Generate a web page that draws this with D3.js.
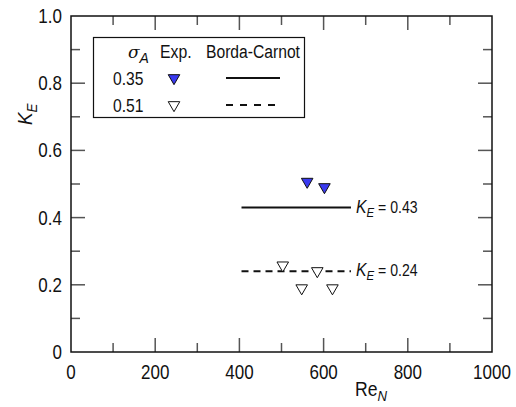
<!DOCTYPE html>
<html>
<head>
<meta charset="utf-8">
<script src="https://cdn.jsdelivr.net/npm/d3@7"></script>
<style>
  body { margin: 0; background: #fff; }
  svg text { font-family: "Liberation Sans Narrow", "Liberation Sans", Arial, sans-serif; fill: #111; }
</style>
</head>
<body>
<svg id="chart" width="516" height="407"></svg>
<script>
// データ
const xTicks = [0, 200, 400, 600, 800, 1000];
const yTicks = [0, 0.2, 0.4, 0.6, 0.8, 1.0];
const yTickLabels = ["0", "0.2", "0.4", "0.6", "0.8", "1.0"];

// Exp. σA = 0.35 (塗りつぶし)
const re035 = [561, 602];
const ke035 = [0.507, 0.491];
// Exp. σA = 0.51 (白抜き)
const re051 = [503, 585, 548, 621];
const ke051 = [0.258, 0.241, 0.19, 0.19];

// Borda-Carnot
const bcRange = [405, 665];
const bcValues = [0.43, 0.24];
const bcLabels = ["0.43", "0.24"];

const margin = {top: 16, right: 24, bottom: 55, left: 71};
const svg = d3.select("#chart");
const width = 516, height = 407;

const x = d3.scaleLinear().domain([0, 1000]).range([margin.left, width - margin.right]);
const y = d3.scaleLinear().domain([0, 1]).range([height - margin.bottom, margin.top]);

const x0 = x(0), x1 = x(1000), y0 = y(0), y1 = y(1);

/* 横に詰めたテキストを置く */
function label(sel, px, py, size, sx, anchor="start") {
  return sel.append("text")
    .attr("transform", `translate(${px},${py}) scale(${sx},1)`)
    .attr("font-size", size)
    .attr("text-anchor", anchor);
}

// 目盛り (内向き)
const tickColor = "#555";
const xMinor = d3.range(100, 1000, 200);
const yMinor = d3.range(0.1, 1.0, 0.2);
const g = svg.append("g");

function drawTicks(vals, len) {
  vals.forEach(v => {
    g.append("line").attr("x1", x(v)).attr("x2", x(v)).attr("y1", y0).attr("y2", y0 - len)
      .attr("stroke", tickColor).attr("stroke-width", 1.5);
    g.append("line").attr("x1", x(v)).attr("x2", x(v)).attr("y1", y1).attr("y2", y1 + len)
      .attr("stroke", tickColor).attr("stroke-width", 1.5);
  });
}
function drawYTicks(vals, len) {
  vals.forEach(v => {
    g.append("line").attr("x1", x0).attr("x2", x0 + len).attr("y1", y(v)).attr("y2", y(v))
      .attr("stroke", tickColor).attr("stroke-width", 1.5);
    g.append("line").attr("x1", x1).attr("x2", x1 - len).attr("y1", y(v)).attr("y2", y(v))
      .attr("stroke", tickColor).attr("stroke-width", 1.5);
  });
}
drawTicks(xTicks.slice(1, -1), 14);
drawTicks(xMinor, 9);
drawYTicks(yTicks.slice(1, -1), 14);
drawYTicks(yMinor, 9);

// 枠
g.append("rect").attr("x", x0).attr("y", y1).attr("width", x1 - x0).attr("height", y0 - y1)
  .attr("fill", "none").attr("stroke", "#111").attr("stroke-width", 1.5);

// 目盛りラベル
xTicks.forEach(d => {
  label(svg, x(d), y0 + 27, 20, 0.85, "middle").text(d);
});
yTicks.forEach((d, i) => {
  label(svg, x0 - 9, y(d) + 7, 20, 0.85, "end").text(yTickLabels[i]);
});

// 軸ラベル
const xl = label(svg, 355, 396, 20, 0.88);
xl.append("tspan").text("Re");
xl.append("tspan").attr("font-style", "italic").attr("font-size", 15).attr("dy", 5).text("N");

const yl = svg.append("text").attr("transform", "translate(32,125) rotate(-90) scale(0.9,1)").attr("font-size", 21);
yl.append("tspan").attr("font-style", "italic").text("K");
yl.append("tspan").attr("font-style", "italic").attr("font-size", 15).attr("dy", 5).text("E");

// Borda-Carnot 線
const dashes = [null, "7,5"];
bcValues.forEach((v, i) => {
  svg.append("line").attr("x1", x(bcRange[0])).attr("x2", x(bcRange[1]))
    .attr("y1", y(v)).attr("y2", y(v))
    .attr("stroke", "#111").attr("stroke-width", 2)
    .attr("stroke-dasharray", dashes[i]);
  const t = label(svg, x(bcRange[1]) + 5, y(v) + 5, 16, 0.88);
  t.append("tspan").attr("font-style", "italic").attr("font-size", 18).text("K");
  t.append("tspan").attr("font-style", "italic").attr("font-size", 13).attr("dy", 4).text("E");
  t.append("tspan").attr("dy", -4).text(" = " + bcLabels[i]);
});

// マーカー
const tri = d3.symbol().type(d3.symbolTriangle).size(58);
function drawTri(sel, px, py, fill) {
  sel.append("path").attr("d", tri())
    .attr("transform", `translate(${px},${py}) rotate(180)`)
    .attr("fill", fill).attr("stroke", "#111").attr("stroke-width", 1);
}
re051.forEach((r, i) => drawTri(svg, x(r), y(ke051[i]), "#fff"));
re035.forEach((r, i) => drawTri(svg, x(r), y(ke035[i]), "#3a3af0"));

// 凡例
const lg = svg.append("g");
lg.append("rect").attr("x", 93.5).attr("y", 37.5).attr("width", 211).attr("height", 80)
  .attr("fill", "#fff").attr("stroke", "#111").attr("stroke-width", 1.2);
const s = label(lg, 128, 58, 18, 1);
s.append("tspan").attr("font-style", "italic").attr("font-family", "DejaVu Serif").attr("font-size", 17).text("σ");
s.append("tspan").attr("font-style", "italic").attr("font-size", 14).attr("dy", 5).text("A");
label(lg, 160, 58, 18, 0.88).text("Exp.");
label(lg, 206, 58, 18, 0.87).text("Borda-Carnot");

const legendRows = ["0.35", "0.51"];
const legendFill = ["#3a3af0", "#fff"];
legendRows.forEach((lab, i) => {
  const ry = 78 + i * 27;
  label(lg, 113, ry + 7, 18, 0.87).text(lab);
  drawTri(lg, 174, ry, legendFill[i]);
  lg.append("line").attr("x1", 226).attr("x2", 280).attr("y1", ry).attr("y2", ry)
    .attr("stroke", "#111").attr("stroke-width", 2).attr("stroke-dasharray", i ? "7,7" : null);
});
</script>
</body>
</html>
